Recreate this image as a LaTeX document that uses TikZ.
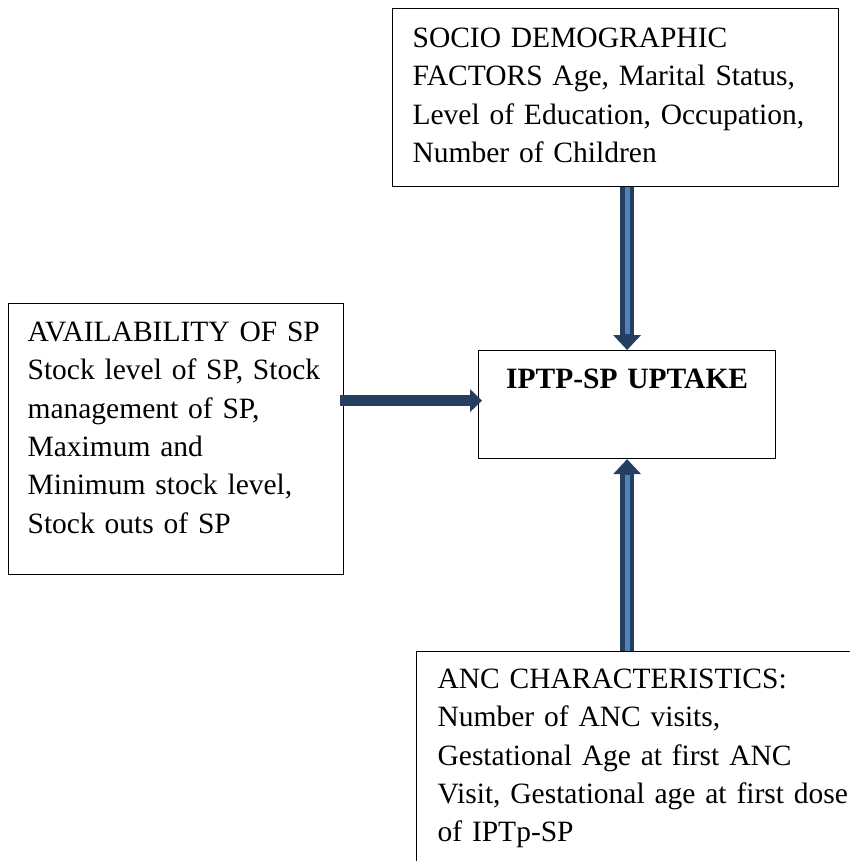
\documentclass[tikz,border=0pt]{standalone}
\usepackage{fontspec}
\setmainfont{Liberation Serif}
\usepackage{xcolor}
\usetikzlibrary{positioning}
\usetikzlibrary{arrows.meta,calc}

\definecolor{arrowblue}{HTML}{243F60}
\definecolor{stripeblue}{HTML}{4F81BD}

\tikzset{
    factor/.style={draw, line width=1.2pt, anchor=north west, align=left,
        inner xsep=20pt, inner ysep=0pt, font=\fontsize{29.5}{38.3}\selectfont},
    flow/.style={arrowblue, line width=14pt,
        -{Triangle[length=15pt,width=28pt,line width=0pt]}},
    sideflow/.style={arrowblue, line width=11pt,
        -{Triangle[length=12pt,width=23pt,line width=0pt]}},
    stripe/.style={stripeblue, line width=5pt}
}

\begin{document}
\begin{tikzpicture}[x=1pt,y=-1pt]
            \useasboundingbox (0,0) rectangle (850,861);

            \node[factor, text width=406pt, text height=39pt, text depth=139pt] (socio) at (392,8)
                {SOCIO DEMOGRAPHIC\\ FACTORS Age, Marital Status,\\ Level of Education, Occupation,\\ Number of Children};
            \node[factor, inner xsep=19pt, text width=297pt, text height=38pt, text depth=233pt] (avail) at (8,303)
                {AVAILABILITY OF SP\\ Stock level of SP, Stock\\ management of SP,\\ Maximum and\\ Minimum stock level,\\ Stock outs of SP};
            \node[factor, align=center, inner xsep=0pt, text width=297pt, text height=38pt, text depth=70pt,
                font=\fontsize{29.5}{38.3}\selectfont\bfseries] (uptake) at (478,350) {IPTP-SP UPTAKE};
            \node[factor, inner xsep=21pt, text width=440pt, text height=37pt, text depth=260pt] (anc) at (416,651)
                {ANC CHARACTERISTICS:\\ Number of ANC visits,\\ Gestational Age at first ANC\\ Visit, Gestational age at first dose\\ of IPTp-SP};

            % arrows into the uptake box
            \draw[flow] (socio.south -| uptake.north) -- (uptake.north);
            \draw[stripe] (socio.south -| uptake.north) -- ($(uptake.north)+(0,-16)$);
            \draw[flow] (anc.north -| uptake.south) -- (uptake.south);
            \draw[stripe] (anc.north -| uptake.south) -- ($(uptake.south)+(0,16)$);
            \draw[sideflow] ($(avail.east |- uptake.west)+(-4,-4)$) -- ($(uptake.west)+(4,-4)$);
    \end{tikzpicture}
\end{document}
